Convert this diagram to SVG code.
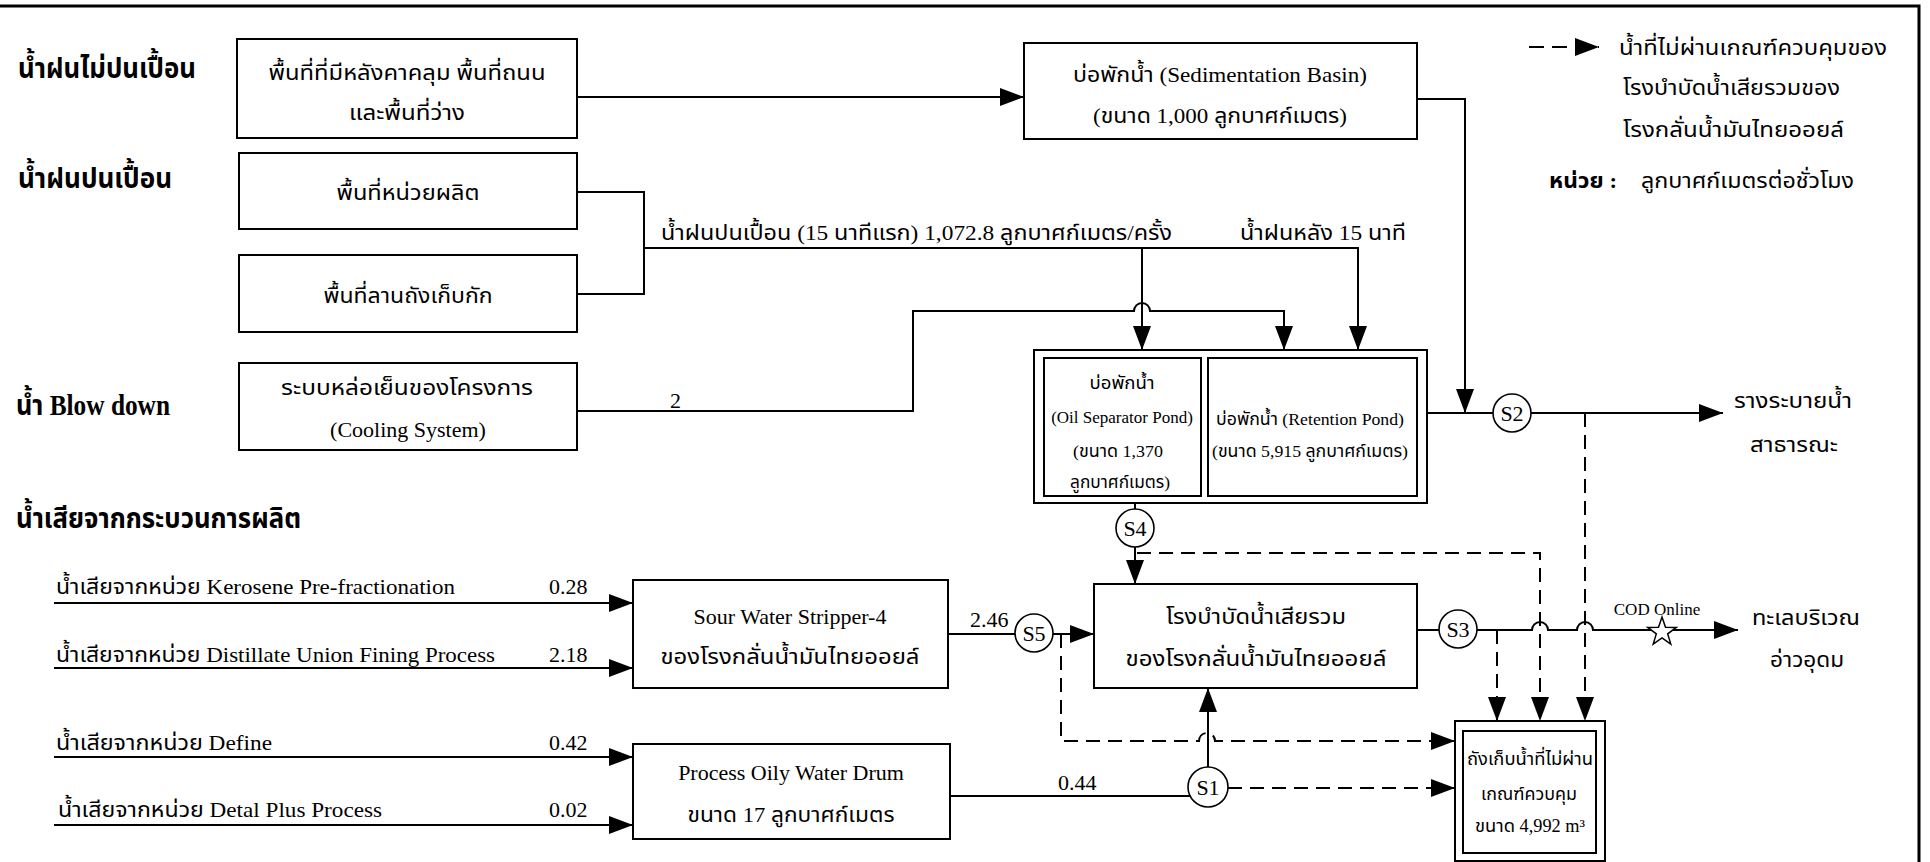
<svg xmlns="http://www.w3.org/2000/svg" width="1930" height="862" viewBox="0 0 1930 862">
<defs>
<style>
.box{fill:#fff;stroke:#000;stroke-width:2}
.ln{fill:none;stroke:#000;stroke-width:2}
.da{fill:none;stroke:#000;stroke-width:2;stroke-dasharray:14 8}
.cir{fill:#fff;stroke:#000;stroke-width:1.6}
text{font-family:"Liberation Serif","Noto Sans Thai","Noto Serif Thai","Tlwg Typo",serif;font-size:22px;fill:#000}
.h{font-size:29px;font-weight:bold}
.m{text-anchor:middle}
.s{font-size:17px}
.st{font-size:18px}
.cl{font-size:22px;text-anchor:middle}
</style>
<marker id="ah" viewBox="0 0 24 18" refX="24" refY="9" markerWidth="24" markerHeight="18" markerUnits="userSpaceOnUse" orient="auto"><path d="M0,0 L24,9 L0,18 z" fill="#000"/></marker>
</defs>
<rect width="1930" height="862" fill="#fff"/>
<g id="frame">
<path d="M0,6 H1919 V862" fill="none" stroke="#000" stroke-width="3"/>
</g>
<g id="labels">
<text class="h" x="18" y="78" textLength="178" lengthAdjust="spacingAndGlyphs">น้ำฝนไม่ปนเปื้อน</text>
<text class="h" x="18" y="188" textLength="154" lengthAdjust="spacingAndGlyphs">น้ำฝนปนเปื้อน</text>
<text class="h" x="16" y="415" textLength="154" lengthAdjust="spacingAndGlyphs">น้ำ Blow down</text>
<text class="h" x="16" y="528" textLength="285" lengthAdjust="spacingAndGlyphs">น้ำเสียจากกระบวนการผลิต</text>
</g>
<g id="connectors">
<path class="ln" d="M577,97 H1024" marker-end="url(#ah)"/>
<path class="ln" d="M1417,99 H1465 V413" marker-end="url(#ah)"/>
<path class="ln" d="M577,192 H644 V294 H577"/>
<path class="ln" d="M644,248 H1358 V350" marker-end="url(#ah)"/>
<path class="ln" d="M1142,248 V350" marker-end="url(#ah)"/>
<path class="ln" d="M577,411 H913 V311 H1134 A8,8 0 0 1 1150,311 H1284 V350" marker-end="url(#ah)"/>
<path class="ln" d="M1427,413 H1493"/>
<path class="ln" d="M1531,413 H1723" marker-end="url(#ah)"/>
<path class="ln" d="M1135,503 V509"/>
<path class="ln" d="M1135,547 V584" marker-end="url(#ah)"/>
<path class="da" d="M1137,553 H1540 V721" marker-end="url(#ah)"/>
<path class="da" d="M1585,413 V721" marker-end="url(#ah)"/>
<path class="ln" d="M1417,630 H1439"/>
<path class="ln" d="M1477,630 H1532 A8,8 0 0 1 1548,630 H1577 A8,8 0 0 1 1593,630 H1738" marker-end="url(#ah)"/>
<path class="da" d="M1497,630 V721" marker-end="url(#ah)"/>
<path class="ln" d="M948,634 H1015"/>
<path class="ln" d="M1053,634 H1094" marker-end="url(#ah)"/>
<path class="da" d="M1061,634 V741 H1199 A8,8 0 0 1 1215,741 H1455" marker-end="url(#ah)"/>
<path class="ln" d="M950,796 H1190"/>
<path class="ln" d="M1208,767 V688" marker-end="url(#ah)"/>
<path class="da" d="M1228,788 H1455" marker-end="url(#ah)"/>
<path class="ln" d="M54,603 H633" marker-end="url(#ah)"/>
<path class="ln" d="M54,668 H633" marker-end="url(#ah)"/>
<path class="ln" d="M54,757 H633" marker-end="url(#ah)"/>
<path class="ln" d="M54,825 H633" marker-end="url(#ah)"/>
<text x="661" y="240" textLength="511" lengthAdjust="spacingAndGlyphs">น้ำฝนปนเปื้อน (15 นาทีแรก)  1,072.8 ลูกบาศก์เมตร/ครั้ง</text>
<text x="1240" y="240" textLength="166" lengthAdjust="spacingAndGlyphs">น้ำฝนหลัง 15 นาที</text>
<text x="670" y="408">2</text>
<text x="56" y="594" textLength="399" lengthAdjust="spacingAndGlyphs">น้ำเสียจากหน่วย Kerosene Pre-fractionation</text>
<text x="549" y="594">0.28</text>
<text x="56" y="662" textLength="439" lengthAdjust="spacingAndGlyphs">น้ำเสียจากหน่วย Distillate Union Fining Process</text>
<text x="549" y="662">2.18</text>
<text x="56" y="750" textLength="216" lengthAdjust="spacingAndGlyphs">น้ำเสียจากหน่วย Define</text>
<text x="549" y="750">0.42</text>
<text x="58" y="817" textLength="324" lengthAdjust="spacingAndGlyphs">น้ำเสียจากหน่วย Detal Plus Process</text>
<text x="549" y="817">0.02</text>
<text x="970" y="627">2.46</text>
<text x="1058" y="790">0.44</text>
<text class="s m" x="1657" y="615">COD Online</text>
<polygon points="1662,617 1665.5,627.2 1676.3,627.4 1667.7,633.9 1670.8,644.1 1662,638 1653.2,644.1 1656.3,633.9 1647.7,627.4 1658.5,627.2" fill="#fff" stroke="#000" stroke-width="1.5"/>
</g>
<g id="nodeA">
<rect class="box" x="237" y="39" width="340" height="99"/>
<text class="m" x="407" y="80" textLength="277" lengthAdjust="spacingAndGlyphs">พื้นที่ที่มีหลังคาคลุม พื้นที่ถนน</text>
<text class="m" x="407" y="120" textLength="116" lengthAdjust="spacingAndGlyphs">และพื้นที่ว่าง</text>
</g>
<g id="nodeB">
<rect class="box" x="239" y="153" width="338" height="76"/>
<text class="m" x="408" y="200" textLength="143" lengthAdjust="spacingAndGlyphs">พื้นที่หน่วยผลิต</text>
</g>
<g id="nodeC">
<rect class="box" x="239" y="255" width="338" height="77"/>
<text class="m" x="408" y="303" textLength="169" lengthAdjust="spacingAndGlyphs">พื้นที่ลานถังเก็บกัก</text>
</g>
<g id="nodeD">
<rect class="box" x="239" y="363" width="338" height="87"/>
<text class="m" x="407" y="395" textLength="252" lengthAdjust="spacingAndGlyphs">ระบบหล่อเย็นของโครงการ</text>
<text class="m" x="408" y="437">(Cooling System)</text>
</g>
<g id="sedimentation">
<rect class="box" x="1024" y="43" width="393" height="96"/>
<text class="m" x="1220" y="82" textLength="294" lengthAdjust="spacingAndGlyphs">บ่อพักน้ำ (Sedimentation Basin)</text>
<text class="m" x="1220" y="123" textLength="254" lengthAdjust="spacingAndGlyphs">(ขนาด 1,000 ลูกบาศก์เมตร)</text>
</g>
<g id="ponds">
<rect class="box" x="1034" y="350" width="393" height="153"/>
<rect class="box" x="1044" y="358" width="157" height="138"/>
<rect class="box" x="1208" y="358" width="209" height="138"/>
<text class="s m" x="1122" y="389" textLength="65" lengthAdjust="spacingAndGlyphs">บ่อพักน้ำ</text>
<text class="s m" x="1122" y="423">(Oil Separator Pond)</text>
<text class="s m" x="1118" y="457" textLength="90" lengthAdjust="spacingAndGlyphs">(ขนาด 1,370</text>
<text class="s m" x="1120" y="488" textLength="100" lengthAdjust="spacingAndGlyphs">ลูกบาศก์เมตร)</text>
<text class="s m" x="1310" y="425" textLength="188" lengthAdjust="spacingAndGlyphs">บ่อพักน้ำ (Retention Pond)</text>
<text class="s m" x="1310" y="457" textLength="196" lengthAdjust="spacingAndGlyphs">(ขนาด 5,915 ลูกบาศก์เมตร)</text>
</g>
<g id="sws">
<rect class="box" x="633" y="580" width="315" height="108"/>
<text class="m" x="790" y="624">Sour Water Stripper-4</text>
<text class="m" x="790" y="664" textLength="259" lengthAdjust="spacingAndGlyphs">ของโรงกลั่นน้ำมันไทยออยล์</text>
</g>
<g id="powd">
<rect class="box" x="633" y="744" width="317" height="95"/>
<text class="m" x="791" y="780">Process Oily Water Drum</text>
<text class="m" x="791" y="822" textLength="207" lengthAdjust="spacingAndGlyphs">ขนาด 17 ลูกบาศก์เมตร</text>
</g>
<g id="wwtp">
<rect class="box" x="1094" y="584" width="323" height="104"/>
<text class="m" x="1256" y="624" textLength="180" lengthAdjust="spacingAndGlyphs">โรงบำบัดน้ำเสียรวม</text>
<text class="m" x="1256" y="666" textLength="261" lengthAdjust="spacingAndGlyphs">ของโรงกลั่นน้ำมันไทยออยล์</text>
</g>
<g id="tank">
<rect class="box" x="1455" y="721" width="150" height="140"/>
<rect class="box" x="1463" y="731" width="133" height="122"/>
<text class="st m" x="1530" y="765" textLength="126" lengthAdjust="spacingAndGlyphs">ถังเก็บน้ำที่ไม่ผ่าน</text>
<text class="st m" x="1529" y="800" textLength="96" lengthAdjust="spacingAndGlyphs">เกณฑ์ควบคุม</text>
<text class="st m" x="1530" y="832" textLength="110" lengthAdjust="spacingAndGlyphs">ขนาด 4,992 m³</text>
</g>
<g id="S1"><circle class="cir" cx="1208" cy="787" r="20"/><text class="cl" x="1208" y="795">S1</text></g>
<g id="S2"><circle class="cir" cx="1512" cy="413" r="19"/><text class="cl" x="1512" y="421">S2</text></g>
<g id="S3"><circle class="cir" cx="1458" cy="629" r="19"/><text class="cl" x="1458" y="637">S3</text></g>
<g id="S4"><circle class="cir" cx="1135" cy="528" r="19"/><text class="cl" x="1135" y="536">S4</text></g>
<g id="S5"><circle class="cir" cx="1034" cy="633" r="19"/><text class="cl" x="1034" y="641">S5</text></g>
<g id="out-drain">
<text class="m" x="1793" y="408" textLength="118" lengthAdjust="spacingAndGlyphs">รางระบายน้ำ</text>
<text class="m" x="1794" y="452" textLength="88" lengthAdjust="spacingAndGlyphs">สาธารณะ</text>
</g>
<g id="out-sea">
<text class="m" x="1806" y="625" textLength="108" lengthAdjust="spacingAndGlyphs">ทะเลบริเวณ</text>
<text class="m" x="1807" y="667" textLength="74" lengthAdjust="spacingAndGlyphs">อ่าวอุดม</text>
</g>
<g id="legend">
<path class="da" d="M1529,47 H1599" style="stroke-dasharray:15 8" marker-end="url(#ah)"/>
<text x="1619" y="55" textLength="268" lengthAdjust="spacingAndGlyphs">น้ำที่ไม่ผ่านเกณฑ์ควบคุมของ</text>
<text x="1623" y="95" textLength="217" lengthAdjust="spacingAndGlyphs">โรงบำบัดน้ำเสียรวมของ</text>
<text x="1623" y="137" textLength="221" lengthAdjust="spacingAndGlyphs">โรงกลั่นน้ำมันไทยออยล์</text>
<text x="1549" y="188" font-weight="bold" textLength="68" lengthAdjust="spacingAndGlyphs">หน่วย :</text>
<text x="1641" y="188" textLength="213" lengthAdjust="spacingAndGlyphs">ลูกบาศก์เมตรต่อชั่วโมง</text>
</g>
</svg>
